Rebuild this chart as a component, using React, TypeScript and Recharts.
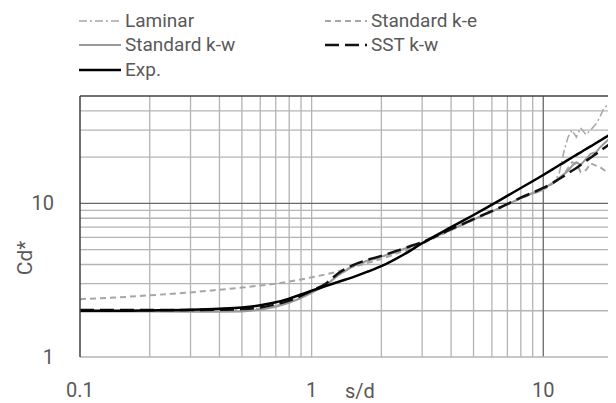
import React from 'react';
import { LineChart, Line, XAxis, YAxis, ReferenceLine } from 'recharts';

// s/d positions shared by every series
const sd = [
  0.1, 0.15, 0.2, 0.3, 0.4, 0.5, 0.6, 0.7, 0.8, 0.9, 1.0, 1.15, 1.3, 1.5, 1.75, 2.0, 2.5, 3.0, 4.0, 5.0, 6.5, 8.0,
  10, 11, 11.7, 12.3, 12.8, 13.3, 13.9, 14.5, 15.3, 16.0, 16.9, 17.5, 18.3, 19.1, 20,
];

const laminar = [
  2.0, 2.0, 2.0, 2.0, 2.01, 2.03, 2.08, 2.16, 2.28, 2.45, 2.65, 2.95, 3.4, 3.85, 4.2, 4.45, 5.0, 5.5, 6.7, 7.8, 9.3, 10.8,
  12.2, 13.5, 15.5, 22, 27, 30, 27, 31, 28, 30, 33, 36, 42, 44, 41,
];
const standardKe = [
  2.38, 2.45, 2.52, 2.63, 2.74, 2.83, 2.92, 3.0, 3.1, 3.2, 3.3, 3.45, 3.6, 3.85, 4.1, 4.35, 4.9, 5.45, 6.7, 7.8, 9.3,
  10.8, 12.3, 13.5, 14.5, 15.5, 17, 18.5, 18.2, 16, 16.5, 18.2, 17.6, 17.3, 16.5, 15.8, 16,
];
const standardKw = [
  1.98, 1.98, 1.98, 1.97, 1.97, 1.98, 2.03, 2.12, 2.25, 2.42, 2.62, 2.92, 3.4, 3.9, 4.25, 4.5, 5.05, 5.55, 6.75, 7.85,
  9.35, 10.85, 12.5, 13.6, 14.6, 15.5, 16.3, 17.5, 18.5, 17.8, 19.5, 21, 21.5, 23, 24.5, 26, 27.5,
];
const sstKw = [
  2.02, 2.02, 2.02, 2.02, 2.03, 2.05, 2.1, 2.2, 2.33, 2.5, 2.7, 3.0, 3.5, 3.95, 4.3, 4.55, 5.1, 5.6, 6.8, 7.9, 9.4,
  10.9, 12.6, 13.6, 14.4, 15.1, 15.7, 16.3, 17.0, 17.8, 18.9, 19.8, 21, 21.8, 22.9, 24, 25.2,
];
const exp = [
  2.0, 2.0, 2.01, 2.03, 2.06, 2.1, 2.17, 2.27, 2.4, 2.55, 2.7, 2.9, 3.08, 3.3, 3.6, 3.9, 4.65, 5.5, 7.0, 8.4, 10.5,
  12.6, 15.3, 16.7, 17.7, 18.5, 19.2, 19.9, 20.7, 21.5, 22.6, 23.5, 24.7, 25.5, 26.6, 27.6, 28.8,
];

const xTicks = [0.1, 1, 10];
const yTicks = [1, 10];
const xMinorGrid = [0.2, 0.3, 0.4, 0.5, 0.6, 0.7, 0.8, 0.9, 1, 2, 3, 4, 5, 6, 7, 8, 9, 20];
const yMinorGrid = [2, 3, 4, 5, 6, 7, 8, 9, 20, 30, 40];

const rows = sd.map((x, i) => ({
  sd: x,
  laminar: laminar[i],
  standardKe: standardKe[i],
  standardKw: standardKw[i],
  sstKw: sstKw[i],
  exp: exp[i],
}));

const series = [
  { key: 'laminar', name: 'Laminar', stroke: '#a6a6a6', dash: '8 3 2 3', width: 1.5, type: 'linear' },
  { key: 'standardKe', name: 'Standard k-e', stroke: '#a6a6a6', dash: '6 4', width: 2, type: 'linear' },
  { key: 'standardKw', name: 'Standard k-w', stroke: '#9a9a9a', dash: undefined, width: 2, type: 'linear' },
  { key: 'sstKw', name: 'SST k-w', stroke: '#111111', dash: '14 6', width: 2.5, type: 'monotone' },
  { key: 'exp', name: 'Exp.', stroke: '#000000', dash: undefined, width: 2.5, type: 'monotone' },
];

// legend slots: [left of symbol, row centre]
const legendPos: { [key: string]: [number, number] } = {
  laminar: [71, 13],
  standardKe: [317, 13],
  standardKw: [71, 37],
  sstKw: [317, 37],
  exp: [71, 62],
};

const textColor = '#595959';
const font = 'Roboto, sans-serif';

const XTick = (props: any) => {
  const { x, y, payload } = props;
  return (
    <text x={x} y={y + 40} textAnchor="middle" fill={textColor} fontSize={20} fontFamily={font}>
      {payload.value}
    </text>
  );
};

const YTick = (props: any) => {
  const { x, y, payload } = props;
  return (
    <text x={x - 26} y={y + 7} textAnchor="end" fill={textColor} fontSize={20} fontFamily={font}>
      {payload.value}
    </text>
  );
};

const App: React.FC = () => (
  <div style={{ position: 'relative', width: 608, height: 395, fontFamily: font, color: textColor }}>
    <LineChart width={608} height={395} data={rows} margin={{ top: 88, right: 3, bottom: 0, left: 0 }}>
      <XAxis
        dataKey="sd"
        type="number"
        scale="log"
        domain={[0.1, 20]}
        ticks={xTicks}
        allowDataOverflow
        height={46}
        tickSize={0}
        tickMargin={0}
        tickLine={false}
        axisLine={{ stroke: '#b4b4b4', strokeWidth: 1.3 }}
        tick={<XTick />}
      />
      <YAxis
        type="number"
        scale="log"
        domain={[1, 50]}
        ticks={yTicks}
        allowDataOverflow
        width={72}
        tickSize={0}
        tickMargin={0}
        tickLine={false}
        axisLine={{ stroke: '#404040', strokeWidth: 1.5 }}
        tick={<YTick />}
      />
      {xMinorGrid.map((v) => (
        <ReferenceLine key={'vx' + v} x={v} stroke="#b4b4b4" strokeWidth={1.3} />
      ))}
      {yMinorGrid.map((v) => (
        <ReferenceLine key={'hy' + v} y={v} stroke="#b4b4b4" strokeWidth={1.3} />
      ))}
      <ReferenceLine x={10} stroke="#6a6a6a" strokeWidth={1.3} />
      <ReferenceLine y={10} stroke="#6a6a6a" strokeWidth={1.3} />
      <ReferenceLine y={50} stroke="#404040" strokeWidth={1.5} />
      {series.map((s) => (
        <Line
          key={s.key}
          dataKey={s.key}
          name={s.name}
          type={s.type as any}
          stroke={s.stroke}
          strokeWidth={s.width}
          strokeDasharray={s.dash}
          dot={false}
          activeDot={false}
          isAnimationActive={false}
        />
      ))}
    </LineChart>

    {series.map((s) => {
      const [left, cy] = legendPos[s.key];
      return (
        <div
          key={s.key}
          style={{
            position: 'absolute',
            left,
            top: cy - 11,
            height: 22,
            lineHeight: '22px',
            display: 'flex',
            alignItems: 'center',
            fontSize: 19,
          }}
        >
          <svg width={42} height={10} style={{ marginRight: 4 }}>
            <line x1={0} y1={5} x2={42} y2={5} stroke={s.stroke} strokeWidth={s.width} strokeDasharray={s.dash} />
          </svg>
          <span>{s.name}</span>
        </div>
      );
    })}

    <div style={{ position: 'absolute', left: 337, top: 372, fontSize: 20, lineHeight: '22px' }}>s/d</div>
    <div
      style={{
        position: 'absolute',
        left: 17,
        top: 250,
        fontSize: 21,
        lineHeight: '22px',
        transform: 'translate(-50%, -50%) rotate(-90deg)',
        whiteSpace: 'nowrap',
      }}
    >
      Cd*
    </div>
  </div>
);

export default App;
